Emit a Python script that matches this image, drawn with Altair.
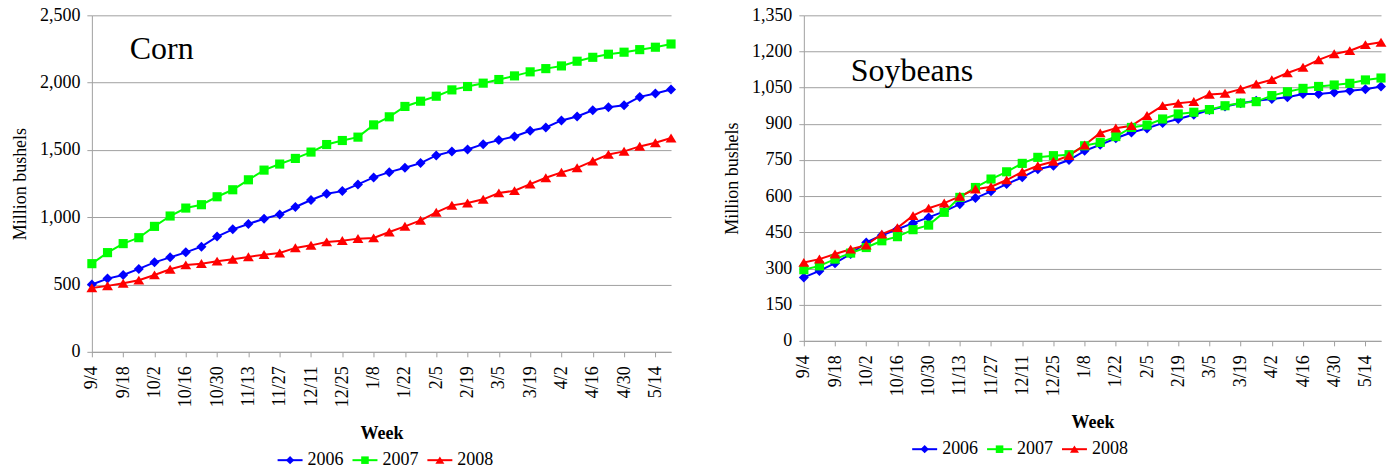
import altair as alt
import pandas as pd

weeks = ["9/4", "9/11", "9/18", "9/25", "10/2", "10/9", "10/16", "10/23", "10/30",
         "11/6", "11/13", "11/20", "11/27", "12/4", "12/11", "12/18", "12/25",
         "1/1", "1/8", "1/15", "1/22", "1/29", "2/5", "2/12", "2/19", "2/26",
         "3/5", "3/12", "3/19", "3/26", "4/2", "4/9", "4/16", "4/23", "4/30",
         "5/7", "5/14", "5/21"]
years = ["2006", "2007", "2008"]
colors = ["#0000FF", "#00FF00", "#FF0000"]

corn_2006 = [500, 544, 571, 616, 665, 702, 739, 781, 856, 910, 950, 989, 1021, 1076, 1128, 1174, 1194,
             1244, 1296, 1335, 1367, 1402, 1459, 1489, 1503, 1543, 1573, 1600, 1642, 1667, 1719, 1748,
             1795, 1817, 1832, 1894, 1919, 1949]
corn_2007 = [655, 737, 804, 848, 932, 1009, 1068, 1093, 1152, 1204, 1278, 1350, 1395, 1437, 1484, 1540, 1570,
             1595, 1686, 1746, 1823, 1862, 1899, 1946, 1971, 1996, 2023, 2050, 2080, 2104, 2124, 2159,
             2188, 2211, 2226, 2245, 2263, 2287]
corn_2008 = [475, 490, 509, 532, 571, 613, 645, 655, 673, 687, 705, 722, 734, 772, 791, 816, 826,
             841, 846, 890, 932, 977, 1036, 1088, 1105, 1133, 1180, 1197, 1246, 1293, 1333, 1367,
             1417, 1466, 1489, 1526, 1553, 1588]

soy_2006 = [263, 290, 322, 360, 408, 438, 463, 488, 512, 537, 567, 592, 620, 650, 678, 712, 726,
            750, 788, 813, 840, 864, 881, 903, 920, 938, 957, 972, 985, 996, 1003, 1010,
            1024, 1024, 1030, 1037, 1043, 1055]
soy_2007 = [295, 311, 339, 364, 387, 415, 432, 461, 480, 533, 595, 636, 671, 701, 736, 761, 768,
            772, 809, 823, 847, 885, 895, 920, 941, 948, 959, 975, 986, 992, 1017, 1033,
            1047, 1055, 1061, 1068, 1082, 1090]
soy_2008 = [325, 339, 360, 380, 397, 443, 469, 519, 550, 571, 599, 629, 639, 667, 701, 726, 744,
            768, 812, 862, 882, 892, 934, 975, 985, 992, 1022, 1026, 1044, 1065, 1083, 1111,
            1134, 1165, 1190, 1203, 1228, 1238]

FONT = "Liberation Serif"
GRID = "#A0A0A0"

marker_paths = [
    "M0,-1.15L1.15,0L0,1.15L-1.15,0Z",
    "M-1.05,-1.05L1.05,-1.05L1.05,1.05L-1.05,1.05Z",
    "M0,-1.05L1.25,1.0L-1.25,1.0Z",
]


def long_df(series):
    rows = []
    for yr, vals in zip(years, series):
        for w, v in zip(weeks, vals):
            rows.append({"week": w, "year": yr, "value": v})
    return pd.DataFrame(rows)


def panel(series, ymax, ystep, name, tx, ty, w, h, leg_x0, leg_y):
    df = long_df(series)
    base = alt.Chart(df)
    x = alt.X("week:N", sort=weeks,
              scale=alt.Scale(type="point", padding=0),
              axis=alt.Axis(values=weeks[::2], labelAngle=270, title="Week",
                            labelFont=FONT, labelFontSize=18,
                            titleFont=FONT, titleFontSize=18, titleFontWeight="bold",
                            titlePadding=18, labelPadding=9, grid=False))
    y = alt.Y("value:Q", scale=alt.Scale(domain=[0, ymax], nice=False, zero=True),
              axis=alt.Axis(values=list(range(0, ymax + 1, ystep)), format=",.0f",
                            title="Million bushels",
                            labelFont=FONT, labelFontSize=18,
                            titleFont=FONT, titleFontSize=18, titleFontWeight="normal",
                            titlePadding=10, labelPadding=7, grid=True))
    stroke_scale = alt.Scale(domain=years, range=colors)
    fill_scale = alt.Scale(domain=years, range=colors)
    shape_scale = alt.Scale(domain=years, range=marker_paths)

    lines = base.mark_line(strokeWidth=2).encode(
        x=x, y=y,
        stroke=alt.Stroke("year:N", scale=stroke_scale, legend=None),
    )
    points = base.mark_point(filled=True, size=76, opacity=1, strokeWidth=0).encode(
        x=x, y=y,
        fill=alt.Fill("year:N", scale=fill_scale, legend=None),
        shape=alt.Shape("year:N", scale=shape_scale, legend=None),
    )
    label = alt.Chart(pd.DataFrame({"t": [name]})).mark_text(
        font=FONT, fontSize=32, align="left", baseline="alphabetic", color="black"
    ).encode(text="t:N", x=alt.value(tx), y=alt.value(ty))
    main = alt.layer(lines, points, label)

    # legend drawn from the series list itself
    leg = alt.Chart(pd.DataFrame({"year": years}))
    lx = alt.X("year:N", sort=years, axis=None,
               scale=alt.Scale(type="point", domain=years, padding=0,
                               range=[leg_x0, leg_x0 + 150]))
    leg_line = leg.mark_point(shape="stroke", size=625, strokeWidth=2, filled=False, opacity=1).encode(
        x=lx, y=alt.value(leg_y),
        stroke=alt.Stroke("year:N", scale=stroke_scale, legend=None),
    )
    leg_mark = leg.mark_point(filled=True, size=52, opacity=1, strokeWidth=0).encode(
        x=lx, y=alt.value(leg_y),
        fill=alt.Fill("year:N", scale=fill_scale, legend=None),
        shape=alt.Shape("year:N", scale=shape_scale, legend=None),
    )
    leg_text = leg.mark_text(font=FONT, fontSize=18, align="left", baseline="middle",
                             dx=17.5, color="black").encode(
        x=lx, y=alt.value(leg_y), text="year:N"
    )
    legend = alt.layer(leg_line, leg_mark, leg_text)
    return alt.layer(main, legend).resolve_scale(x="independent").properties(width=w, height=h)


corn = panel([corn_2006, corn_2007, corn_2008], 2500, 500, "Corn", 38, 44, 580, 337, 198.5, 445.5)
soy = panel([soy_2006, soy_2007, soy_2008], 1350, 150, "Soybeans", 47, 66, 578, 326, 121, 434.5)

chart = alt.hconcat(corn, soy, spacing=46).resolve_scale(
    x="independent", y="independent", fill="independent", stroke="independent", shape="independent"
).properties(
    padding={"left": 11, "top": 6, "right": 0, "bottom": 0}
).configure(font=FONT).configure_view(stroke=None).configure_axis(
    labelFont=FONT, titleFont=FONT, labelColor="black", titleColor="black",
    domainColor=GRID, tickColor=GRID, gridColor=GRID, tickSize=5
).configure_text(font=FONT)

chart.save("out.html", embed_options={"renderer": "svg", "actions": False})
